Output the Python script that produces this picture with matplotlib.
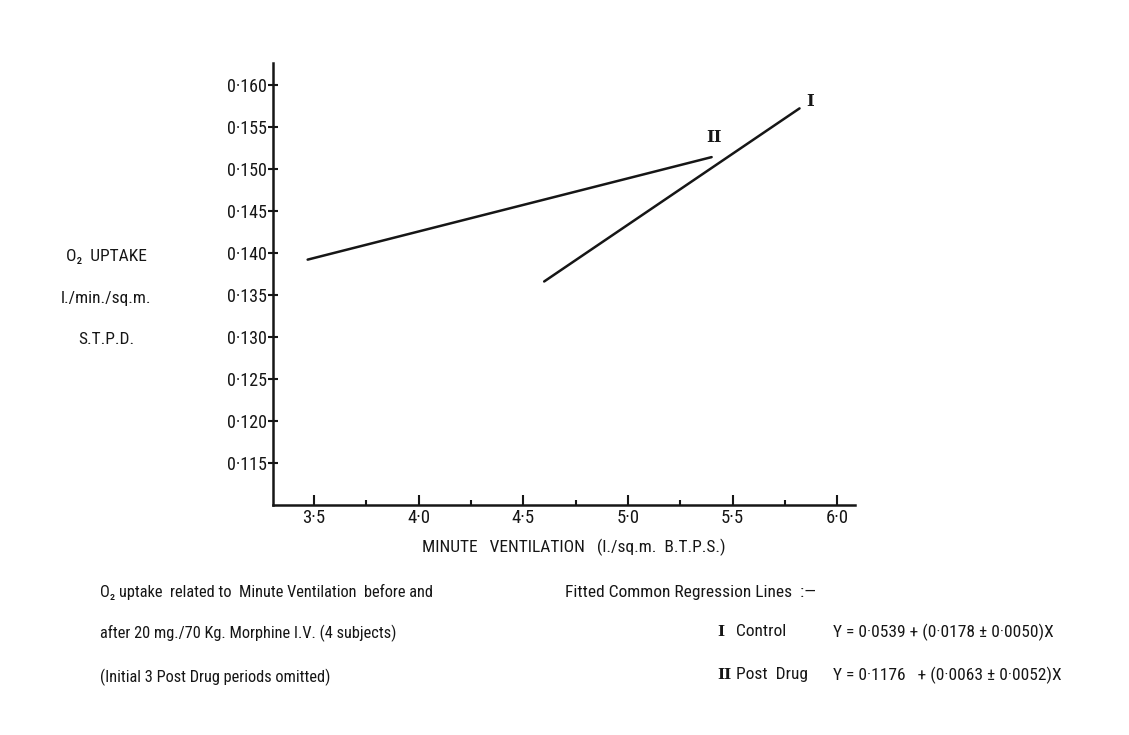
import matplotlib
matplotlib.use("Agg")
import matplotlib.pyplot as plt
from matplotlib.ticker import FixedLocator, FixedFormatter

# ---- data ----
line_I_x = [4.60, 5.82]
line_I_y = [0.1366, 0.1572]
line_II_x = [3.47, 5.40]
line_II_y = [0.1392, 0.1514]

x_ticks = [3.5, 4.0, 4.5, 5.0, 5.5, 6.0]
x_tick_labels = ["3·5", "4·0", "4·5", "5·0", "5·5", "6·0"]
x_minor = [3.75, 4.25, 4.75, 5.25, 5.75]
y_ticks = [0.115, 0.120, 0.125, 0.130, 0.135, 0.140, 0.145, 0.150, 0.155, 0.160]
y_tick_labels = ["0·115", "0·120", "0·125", "0·130", "0·135", "0·140",
                 "0·145", "0·150", "0·155", "0·160"]

x_label = "MINUTE   VENTILATION   (l./sq.m.  B.T.P.S.)"
y_label_lines = ["O₂  UPTAKE", "l./min./sq.m.", "S.T.P.D."]
caption_left = ["O₂ uptake  related to  Minute Ventilation  before and",
                "after 20 mg./70 Kg. Morphine I.V. (4 subjects)",
                "(Initial 3 Post Drug periods omitted)"]
caption_right_title = "Fitted Common Regression Lines  :—"
eq_numerals = ["I", "II"]
eq_names = ["Control", "Post  Drug"]
eq_texts = ["Y = 0·0539 + (0·0178 ± 0·0050)X",
            "Y = 0·1176   + (0·0063 ± 0·0052)X"]

FAM = ["Roboto Condensed", "DejaVu Sans"]
SERIF = "DejaVu Serif"
INK = "#161616"
W, H = 1129, 735

fig = plt.figure(figsize=(W / 100, H / 100), dpi=100)
fig.patch.set_facecolor("white")

def fx(px):
    return px / W

def fy(py):
    return 1 - py / H

ax = fig.add_axes([fx(272.7), fy(505), fx(855) - fx(272.7), fy(63) - fy(505)])
ax.set_xlim(3.303, 6.085)
ax.set_ylim(0.1100, 0.1626)

for s in ["top", "right"]:
    ax.spines[s].set_visible(False)
for s in ["left", "bottom"]:
    ax.spines[s].set_linewidth(1.8)
    ax.spines[s].set_color(INK)

ax.plot(line_I_x, line_I_y, color=INK, lw=1.8, solid_capstyle="round")
ax.plot(line_II_x, line_II_y, color=INK, lw=1.8, solid_capstyle="round")

ax.text(line_I_x[1] + 0.03, line_I_y[1] + 0.0008, "I", fontsize=12,
        family=SERIF, fontweight="bold", color=INK, ha="left", va="center")
ax.text(line_II_x[1] + 0.01, line_II_y[1] + 0.0023, "II", fontsize=12,
        family=SERIF, fontweight="bold", color=INK, ha="center", va="center")

ax.xaxis.set_major_locator(FixedLocator(x_ticks))
ax.xaxis.set_major_formatter(FixedFormatter(x_tick_labels))
ax.xaxis.set_minor_locator(FixedLocator(x_minor))
ax.yaxis.set_major_locator(FixedLocator(y_ticks))
ax.yaxis.set_major_formatter(FixedFormatter(y_tick_labels))

ax.tick_params(axis="x", which="major", direction="in", length=7, width=1.5,
               pad=3, labelsize=13.5, colors=INK)
ax.tick_params(axis="x", which="minor", direction="in", length=3.5, width=1.5, colors=INK)
ax.tick_params(axis="y", which="major", direction="inout", length=7, width=1.5,
               pad=0.5, labelsize=13, colors=INK)
for lab in ax.get_xticklabels() + ax.get_yticklabels():
    lab.set_family(FAM)

fig.text(fx(574), fy(547), x_label, family=FAM, fontsize=12.5, color=INK,
         ha="center", va="center")

for txt, py in zip(y_label_lines, [256, 299, 339]):
    fig.text(fx(106), fy(py), txt, family=FAM, fontsize=12.5, color=INK,
             ha="center", va="center")

for txt, py in zip(caption_left, [592, 633, 677]):
    fig.text(fx(100), fy(py), txt, family=FAM, fontsize=11.8, color=INK,
             ha="left", va="center")

fig.text(fx(565), fy(592), caption_right_title, family=FAM, fontsize=12.5,
         color=INK, ha="left", va="center")
for num, name, eq, py in zip(eq_numerals, eq_names, eq_texts, [632, 675]):
    fig.text(fx(717), fy(py), num, family=SERIF, fontsize=11, color=INK,
             fontweight="bold", ha="left", va="center")
    fig.text(fx(736), fy(py), name, family=FAM, fontsize=12.5, color=INK,
             ha="left", va="center")
    fig.text(fx(833), fy(py), eq, family=FAM, fontsize=12.5, color=INK,
             ha="left", va="center")

fig.savefig("out.png", dpi=100, facecolor="white")
